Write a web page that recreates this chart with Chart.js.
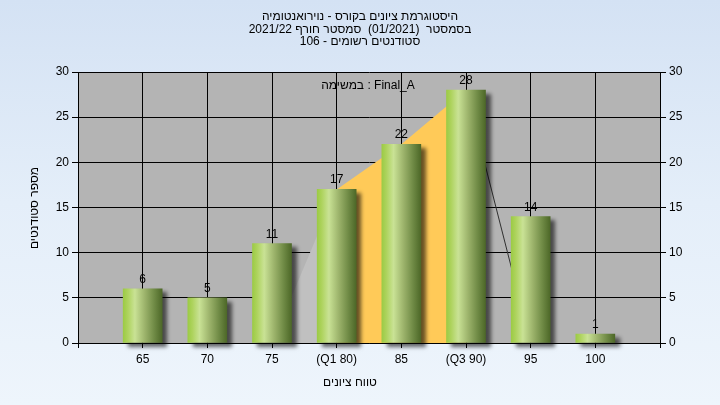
<!DOCTYPE html>
<html><head><meta charset="utf-8">
<script src="https://cdn.jsdelivr.net/npm/chart.js@4.4.1/dist/chart.umd.min.js"></script>
<style>
html,body{margin:0;padding:0;}
canvas{display:block;background:linear-gradient(180deg,#d4e2f4 0%,#e4eef9 50%,#eef5fc 100%);}
</style>
</head><body>
<canvas id="c" width="720" height="405"></canvas>
<script>
// ---- data ----
const categories = [65, 70, 75, 80, 85, 90, 95, 100];
const tickLabels = ['65', '70', '75', '(Q1 80)', '85', '(Q3 90)', '95', '100'];
const counts = [6, 5, 11, 17, 22, 28, 14, 1];
const q1Index = 3;
const q3Index = 5;
const titleLines = ['היסטוגרמת ציונים בקורס - נוירואנטומיה', 'בסמסטר  (01/2021)  סמסטר חורף 2021/22', 'סטודנטים רשומים - 106'];
const taskLabel = 'במשימה : Final_A';
const xTitle = 'טווח ציונים';
const yTitle = 'מספר סטודנטים';
const yTicks = [0, 5, 10, 15, 20, 25, 30];

// ---- helpers ----
const FONT = '"Liberation Sans", Arial, sans-serif';

const barData = categories.map((c, i) => ({x: c, y: counts[i]}));
const iqrData = categories.slice(q1Index, q3Index + 1).map((c, k) => ({x: c, y: counts[q1Index + k]}));
const leftEdge = [{x: categories[q1Index - 1], y: 0}, {x: categories[q1Index], y: counts[q1Index]}];
const rightEdge = [{x: categories[q3Index], y: counts[q3Index]}, {x: categories[q3Index + 1], y: 0}];

Chart.defaults.font.family = FONT;
Chart.defaults.font.size = 12;
Chart.defaults.color = '#000';

const barGradient = (ctx) => {
  const chart = ctx.chart;
  if (!chart.chartArea || !ctx.raw) return '#9fc84a';
  const cx = chart.scales.x.getPixelForValue(ctx.raw.x);
  const g = chart.ctx.createLinearGradient(cx - 19.5, 0, cx + 19.5, 0);
  g.addColorStop(0, '#9ccb45');
  g.addColorStop(0.12, '#aed35e');
  g.addColorStop(0.3, '#c9e295');
  g.addColorStop(0.55, '#9db46c');
  g.addColorStop(0.8, '#6f8a45');
  g.addColorStop(1, '#4d6828');
  return g;
};

const decor = {
  id: 'decor',
  beforeDraw(chart) {
    const {ctx, chartArea: a} = chart;
    ctx.save();
    ctx.fillStyle = '#b4b4b4';
    ctx.fillRect(a.left, a.top, a.right - a.left, a.bottom - a.top);
    ctx.restore();
  },
  beforeDatasetDraw(chart, args) {
    if (args.index === 0) {
      const ctx = chart.ctx;
      ctx.save();
      ctx.shadowColor = 'rgba(0,0,0,0.6)';
      ctx.shadowBlur = 4;
      ctx.shadowOffsetX = 5;
      ctx.shadowOffsetY = 4;
    }
  },
  afterDatasetDraw(chart, args) {
    if (args.index === 0) chart.ctx.restore();
  },
  afterDatasetsDraw(chart) {
    const ctx = chart.ctx;
    ctx.save();
    ctx.font = '12px ' + FONT;
    ctx.fillStyle = '#000';
    ctx.textAlign = 'center';
    ctx.textBaseline = 'alphabetic';
    const meta = chart.getDatasetMeta(0);
    meta.data.forEach((el, i) => {
      ctx.fillText(String(counts[i]), el.x, el.y - 6);
    });
    ctx.direction = 'ltr';
    ctx.fillText(taskLabel, 368, 89);
    ctx.restore();
  },
  afterDraw(chart) {
    const ctx = chart.ctx;
    ctx.save();
    ctx.font = '12px ' + FONT;
    ctx.fillStyle = '#000';
    ctx.textAlign = 'center';
    ctx.textBaseline = 'alphabetic';
    ctx.direction = 'rtl';
    const base = [20, 33, 45];
    titleLines.forEach((t, i) => ctx.fillText(t, 360, base[i]));
    ctx.fillText(xTitle, 350, 386);
    ctx.translate(38, 208);
    ctx.rotate(-Math.PI / 2);
    ctx.fillText(yTitle, 0, 0);
    ctx.restore();
  }
};

new Chart(document.getElementById('c'), {
  type: 'bar',
  data: {
    datasets: [
      {
        type: 'bar', data: barData, backgroundColor: barGradient, borderWidth: 0,
        barThickness: 39, clip: false, order: 0
      },
      {
        type: 'line', data: iqrData, fill: 'origin', backgroundColor: '#ffca58',
        borderWidth: 0, pointRadius: 0, tension: 0, order: 2
      },
      {
        type: 'line', data: leftEdge, fill: 'origin', backgroundColor: '#c0c0c0',
        borderWidth: 0, pointRadius: 0, tension: 0, order: 3
      },
      {
        type: 'line', data: rightEdge, fill: false, borderColor: '#303030',
        borderWidth: 1, pointRadius: 0, tension: 0, order: 1
      }
    ]
  },
  options: {
    responsive: false,
    animation: false,
    devicePixelRatio: 1,
    layout: {padding: {top: 72, left: 0, right: 0, bottom: 0}},
    plugins: {legend: {display: false}, tooltip: {enabled: false}, title: {display: false}},
    scales: {
      x: {
        type: 'linear', min: 60, max: 105, offset: false,
        grid: {color: '#000', lineWidth: 1, offset: false, tickLength: 5, tickColor: '#000'},
        border: {color: '#000'},
        ticks: {
          stepSize: 5, autoSkip: false, maxRotation: 0, padding: 4,
          callback: v => { const i = categories.indexOf(v); return i >= 0 ? tickLabels[i] : ''; }
        },
        afterFit: s => { s.height = 62; }
      },
      y: {
        position: 'left', min: 0, max: 30,
        grid: {color: '#000', lineWidth: 1, tickLength: 6, tickColor: '#000'},
        border: {color: '#000'},
        ticks: {stepSize: 5, padding: 3, callback: v => yTicks.includes(v) ? String(v) : ''},
        afterFit: s => { s.width = 78; }
      },
      y2: {
        position: 'right', min: 0, max: 30,
        grid: {drawOnChartArea: false, tickLength: 6, tickColor: '#000'},
        border: {color: '#000'},
        ticks: {stepSize: 5, padding: 3, callback: v => yTicks.includes(v) ? String(v) : ''},
        afterFit: s => { s.width = 60; }
      }
    }
  },
  plugins: [decor]
});
</script>
</body></html>
